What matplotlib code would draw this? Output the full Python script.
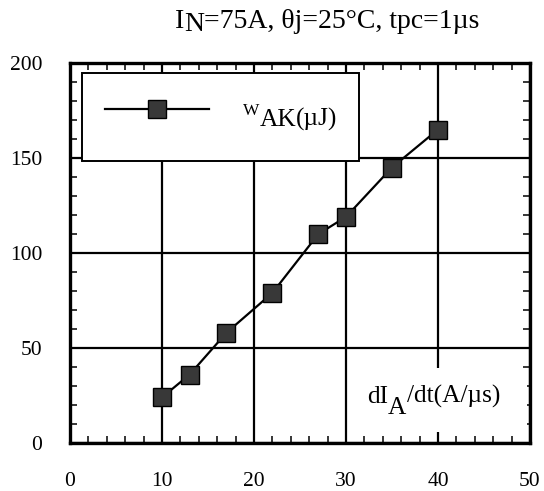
import matplotlib
matplotlib.use("Agg")
import matplotlib.pyplot as plt
from matplotlib.patches import Rectangle
from matplotlib.lines import Line2D
from matplotlib.text import Annotation
from matplotlib.ticker import MultipleLocator

# ---- data ----
didt = [10, 13, 17, 22, 27, 30, 35, 40]          # dI_A/dt (A/µs)
w_ak = [24, 36, 58, 79, 110, 119, 145, 165]      # W_AK (µJ)
x_ticks = [0, 10, 20, 30, 40, 50]
y_ticks = [0, 50, 100, 150, 200]

FONT = "Liberation Serif"
FS = 15.5      # tick labels
LFS = 18.3     # labels
TFS = 20       # title
plt.rcParams["font.family"] = [FONT, "DejaVu Serif"]

fig = plt.figure(figsize=(5.44, 4.91), dpi=100)
ax = fig.add_axes([70 / 544, 1 - 443 / 491, 460 / 544, 380 / 491])

ax.set_xlim(0, 50)
ax.set_ylim(0, 200)
ax.set_xticks(x_ticks)
ax.set_yticks(y_ticks)
ax.xaxis.set_minor_locator(MultipleLocator(2))
ax.yaxis.set_minor_locator(MultipleLocator(10))
ax.tick_params(which="both", direction="in", top=True, right=True, labelsize=FS)
ax.tick_params(which="major", length=7, width=1.2)
ax.tick_params(which="minor", length=5, width=1.1)
ax.tick_params(axis="x", which="major", pad=21)
ax.tick_params(axis="y", which="major", pad=20)
for s in ax.spines.values():
    s.set_linewidth(2.4)
ax.grid(True, which="major", color="black", linewidth=1.6)
ax.set_axisbelow(True)

# data line
ax.plot(didt, w_ak, color="black", linewidth=1.6, marker="s", markersize=12.5,
        markerfacecolor="#383838", markeredgecolor="black", markeredgewidth=1.0,
        zorder=4)

# legend box (manual)
ax.add_patch(Rectangle((0.0254, 0.742), 0.603, 0.232, transform=ax.transAxes,
                       facecolor="white", edgecolor="black", linewidth=1.4,
                       zorder=1))
ax.add_line(Line2D([0.076, 0.302], [0.879, 0.879], transform=ax.transAxes,
                   color="black", linewidth=1.6, zorder=4))
ax.add_line(Line2D([0.189], [0.879], transform=ax.transAxes, marker="s",
                   markersize=12.5, markerfacecolor="#383838",
                   markeredgecolor="black", markeredgewidth=1.0, zorder=5))


def chain(pieces, x, y, transform, holder):
    s0, size0 = pieces[0]
    prev = holder.text(x, y, s0, transform=transform, va="baseline", ha="left",
                       fontsize=size0, zorder=6)
    for s, dy, size in pieces[1:]:
        ann = Annotation(s, xy=(1, 0), xycoords=prev, xytext=(0, dy),
                         textcoords="offset points", va="bottom", ha="left",
                         fontsize=size, zorder=6)
        if holder is fig:
            fig.add_artist(ann)
        else:
            ax.add_artist(ann)
        prev = ann
    return prev


# legend label: W_AK(µJ)
chain([("W", 12.5), ("AK", -8, LFS), ("(µJ)", 0, LFS)],
      0.376, 0.862, ax.transAxes, ax)

# x-axis label box + text
ax.add_patch(Rectangle((0.613, 0.03), 0.38, 0.167, transform=ax.transAxes,
                       facecolor="white", edgecolor="none", zorder=1))
chain([("dI", LFS), ("A", -8, LFS), ("/dt(A/µs)", 8, LFS)],
      0.646, 0.105, ax.transAxes, ax)

# title: I_N=75A, θj=25°C, tpc=1µs
chain([("I", TFS), ("N", -2.5, TFS), ("=75A, θj=25°C, tpc=1µs", 2.5, TFS)],
      175 / 544, 1 - 28 / 491, fig.transFigure, fig)

fig.savefig("out.png", dpi=100)
